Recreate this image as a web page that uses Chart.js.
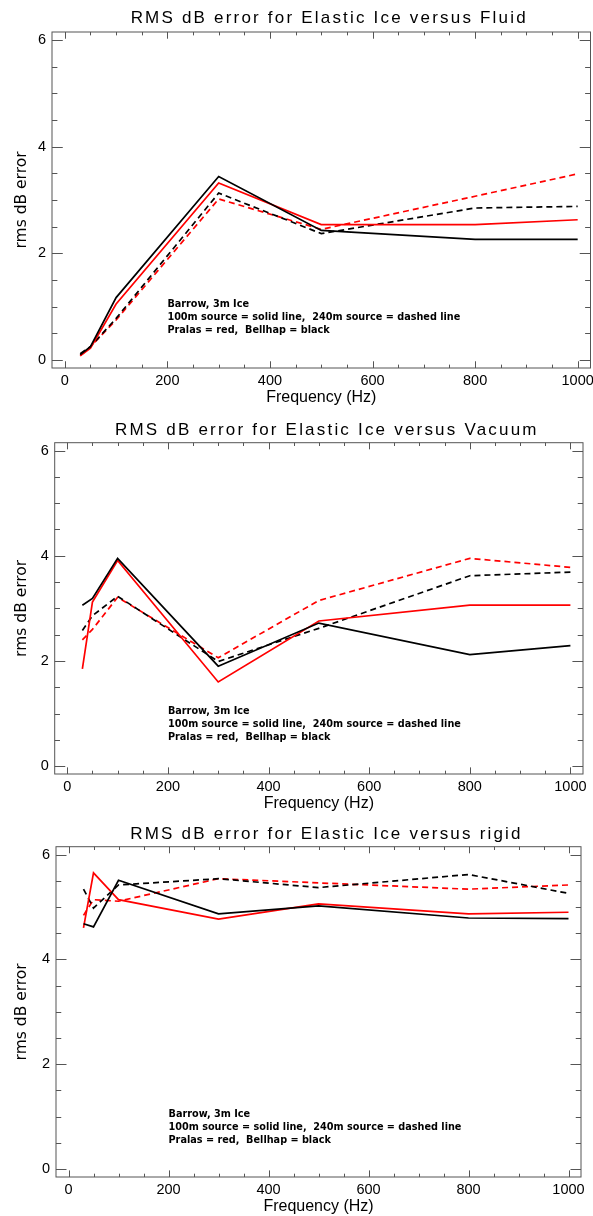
<!DOCTYPE html>
<html>
<head>
<meta charset="utf-8">
<script src="https://cdn.jsdelivr.net/npm/chart.js@4.4.1/dist/chart.umd.min.js"></script>
<style>
  body { margin: 0; background: #fff; width: 593px; height: 1216px; position: relative; overflow: hidden; }
  canvas { position: absolute; left: 0; }
</style>
</head>
<body>
<canvas id="c1"></canvas>
<canvas id="c2"></canvas>
<canvas id="c3"></canvas>
<script>
// frequencies (Hz) shared by every curve
const freqHz = [30, 50, 100, 300, 500, 800, 1000];
const xTicks = [0, 200, 400, 600, 800, 1000];
const yTicks = [0, 2, 4, 6];

// Elastic ice versus fluid
const fluidBellhap100 = [0.10, 0.25, 1.17, 3.44, 2.43, 2.26, 2.26];
const fluidPralas100 = [0.08, 0.22, 1.05, 3.32, 2.54, 2.54, 2.63];
const fluidBellhap240 = [0.12, 0.25, 0.78, 3.13, 2.37, 2.85, 2.88];
const fluidPralas240 = [0.08, 0.25, 0.75, 3.02, 2.45, 3.07, 3.49];

// Elastic ice versus vacuum
const vacuumBellhap100 = [3.06, 3.19, 3.95, 1.90, 2.72, 2.12, 2.29];
const vacuumPralas100 = [1.85, 3.12, 3.91, 1.60, 2.76, 3.06, 3.06];
const vacuumBellhap240 = [2.58, 2.86, 3.23, 1.99, 2.62, 3.62, 3.69];
const vacuumPralas240 = [2.40, 2.60, 3.21, 2.06, 3.15, 3.95, 3.78];

// Elastic ice versus rigid
const rigidBellhap100 = [4.68, 4.62, 5.51, 4.87, 5.02, 4.79, 4.78];
const rigidPralas100 = [4.60, 5.65, 5.14, 4.77, 5.06, 4.87, 4.90];
const rigidBellhap240 = [5.34, 4.98, 5.42, 5.54, 5.37, 5.62, 5.26];
const rigidPralas240 = [4.84, 5.14, 5.11, 5.54, 5.46, 5.34, 5.42];

const titles = [
  'RMS dB error for Elastic Ice versus Fluid',
  'RMS dB error for Elastic Ice versus Vacuum',
  'RMS dB error for Elastic Ice versus rigid'
];
const noteLines = [
  'Barrow, 3m Ice',
  '100m source = solid line,  240m source = dashed line',
  'Pralas = red,  Bellhap = black'
];
const noteX = 200;
const noteY = [1.0, 0.75, 0.5];

// where each panel sits on the page
const panels = [
  { id: 'c1', top: 0, height: 407, left: 52, right: 590.5, boxTop: 32, titleY: 18,
    series: [fluidBellhap100, fluidPralas100, fluidBellhap240, fluidPralas240] },
  { id: 'c2', top: 410, height: 403, left: 54.7, right: 583, boxTop: 32.7, titleY: 20,
    series: [vacuumBellhap100, vacuumPralas100, vacuumBellhap240, vacuumPralas240] },
  { id: 'c3', top: 814, height: 402, left: 56, right: 581, boxTop: 32.7, titleY: 20,
    series: [rigidBellhap100, rigidPralas100, rigidBellhap240, rigidPralas240] }
];

const xAxisHeight = 39;

function lineSet(values, color, dashed) {
  return {
    data: freqHz.map((f, i) => ({ x: f, y: values[i] })),
    borderColor: color,
    borderWidth: 1.7,
    borderDash: dashed ? [6, 4] : [],
    pointRadius: 0,
    tension: 0,
    fill: false
  };
}

// box, inward ticks on all sides, spaced-out title and the note text
const frame = {
  id: 'frame',
  afterDraw(chart, args, opts) {
    const { ctx, chartArea: a } = chart;
    const xs = chart.scales.x, ys = chart.scales.y;
    ctx.save();
    ctx.strokeStyle = '#555';
    ctx.lineWidth = 1;
    ctx.strokeRect(a.left, a.top, a.width, a.height);

    const xLen = a.height * 0.02, yLen = a.width * 0.02;
    const xStep = (xTicks[1] - xTicks[0]) / 4;
    const yStep = (yTicks[1] - yTicks[0]) / 4;
    ctx.beginPath();
    for (let v = xTicks[0]; v <= xTicks[xTicks.length - 1] + 1e-6; v += xStep) {
      const px = Math.round(xs.getPixelForValue(v)) + 0.5;
      const len = xTicks.includes(v) ? xLen : xLen / 2;
      ctx.moveTo(px, a.bottom); ctx.lineTo(px, a.bottom - len);
      ctx.moveTo(px, a.top); ctx.lineTo(px, a.top + len);
    }
    for (let v = yTicks[0]; v <= yTicks[yTicks.length - 1] + 1e-6; v += yStep) {
      const py = Math.round(ys.getPixelForValue(v)) + 0.5;
      const len = yTicks.includes(v) ? yLen : yLen / 2;
      ctx.moveTo(a.left, py); ctx.lineTo(a.left + len, py);
      ctx.moveTo(a.right, py); ctx.lineTo(a.right - len, py);
    }
    ctx.stroke();

    ctx.fillStyle = '#000';
    ctx.font = '17px "Liberation Sans", Arial, sans-serif';
    ctx.letterSpacing = '2.2px';
    ctx.textAlign = 'center';
    ctx.textBaseline = 'middle';
    ctx.fillText(opts.text, (a.left + a.right) / 2 + 8, opts.y);

    ctx.letterSpacing = '0px';
    ctx.font = 'bold 9.7px "DejaVu Sans"';
    ctx.textAlign = 'left';
    ctx.textBaseline = 'alphabetic';
    noteLines.forEach((t, i) => {
      ctx.fillText(t, xs.getPixelForValue(noteX), ys.getPixelForValue(noteY[i]));
    });
    ctx.restore();
  }
};

panels.forEach((p, k) => {
  const canvas = document.getElementById(p.id);
  canvas.width = 593;
  canvas.height = p.height;
  canvas.style.top = p.top + 'px';

  new Chart(canvas, {
    type: 'line',
    data: {
      datasets: [
        lineSet(p.series[0], '#000', false),
        lineSet(p.series[1], '#ff0000', false),
        lineSet(p.series[2], '#000', true),
        lineSet(p.series[3], '#ff0000', true)
      ]
    },
    options: {
      responsive: false,
      animation: false,
      layout: { padding: { left: 0, top: p.boxTop, bottom: 0, right: 593 - p.right } },
      plugins: {
        legend: { display: false },
        tooltip: { enabled: false },
        title: { display: false },
        frame: { text: titles[k], y: p.titleY }
      },
      scales: {
        x: {
          type: 'linear',
          min: -25,
          max: 1025,
          afterBuildTicks: s => { s.ticks = xTicks.map(v => ({ value: v })); },
          afterFit: s => { s.height = xAxisHeight; s.paddingLeft = 0; s.paddingRight = 0; },
          grid: { display: false, drawTicks: false },
          border: { display: false },
          ticks: {
            color: '#000',
            padding: 4,
            maxRotation: 0,
            autoSkip: false,
            callback: v => String(v),
            font: { family: '"Liberation Sans", Arial, sans-serif', size: 14.5 }
          },
          title: {
            display: true,
            text: 'Frequency (Hz)',
            color: '#000',
            padding: { top: 0, bottom: 0 },
            font: { family: '"Liberation Sans", Arial, sans-serif', size: 16 }
          }
        },
        y: {
          min: -0.15,
          max: 6.15,
          afterBuildTicks: s => { s.ticks = yTicks.map(v => ({ value: v })); },
          afterFit: s => { s.width = p.left; s.paddingTop = 0; s.paddingBottom = 0; },
          grid: { display: false, drawTicks: false },
          border: { display: false },
          ticks: {
            color: '#000',
            padding: 6,
            autoSkip: false,
            callback: v => String(v),
            font: { family: '"Liberation Sans", Arial, sans-serif', size: 14.5 }
          },
          title: {
            display: true,
            text: 'rms dB error',
            color: '#000',
            padding: { top: 12.5, bottom: 0 },
            font: { family: '"DejaVu Sans", sans-serif', size: 15.5 }
          }
        }
      }
    },
    plugins: [frame]
  });
});
</script>
</body>
</html>
